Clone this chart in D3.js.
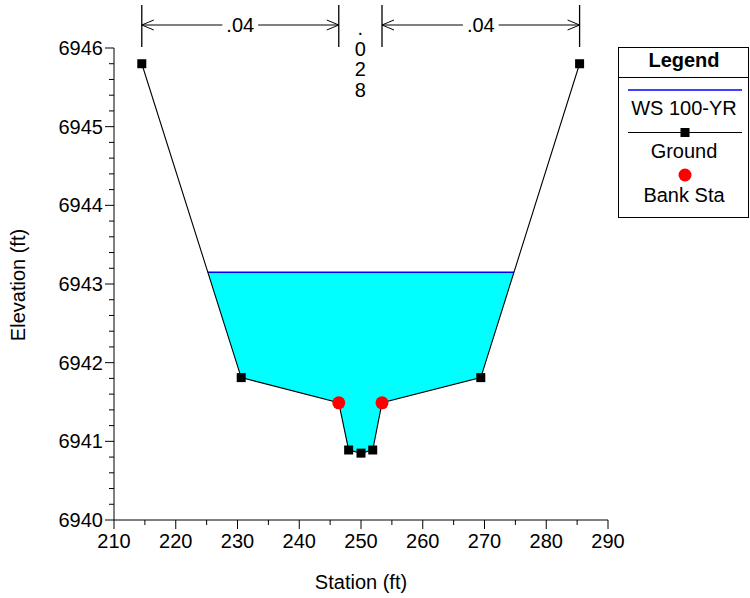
<!DOCTYPE html>
<html><head><meta charset="utf-8">
<script src="https://cdn.jsdelivr.net/npm/d3@7"></script>
<style>body{margin:0;background:#fff}svg{display:block;font-family:"Liberation Sans",Arial,sans-serif}</style>
</head><body>
<script>
const groundStation = [214.5, 230.6, 246.4, 248.0, 250.0, 251.9, 253.4, 269.4, 285.4];
const groundElev    = [6945.8, 6941.81, 6941.49, 6940.89, 6940.85, 6940.89, 6941.49, 6941.81, 6945.8];
const bankStation = [246.4, 253.4];
const bankElev    = [6941.49, 6941.49];
const wsElev = 6943.15;
const nValues = [".04", ".028", ".04"];
const nBreaks = [214.5, 246.4, 253.4, 285.4];
const xTicks = [210, 220, 230, 240, 250, 260, 270, 280, 290];
const yTicks = [6940, 6941, 6942, 6943, 6944, 6945, 6946];
const legendItems = ["WS 100-YR", "Ground", "Bank Sta"];

(function () {
const W = 750, H = 598;
const svg = d3.select("body").append("svg").attr("width", W).attr("height", H);
const x = d3.scaleLinear().domain([210, 290]).range([114, 608]);
const y = d3.scaleLinear().domain([6940, 6946]).range([520, 48]);

const ground = groundStation.map((s, i) => [s, groundElev[i]]);

function waterPoly() {
  const pts = [];
  for (let i = 0; i < ground.length - 1; i++) {
    const [x0, y0] = ground[i], [x1, y1] = ground[i + 1];
    if (y0 <= wsElev) pts.push([x0, y0]);
    if ((y0 - wsElev) * (y1 - wsElev) < 0) {
      const t = (wsElev - y0) / (y1 - y0);
      pts.push([x0 + t * (x1 - x0), wsElev]);
    }
  }
  const last = ground[ground.length - 1];
  if (last[1] <= wsElev) pts.push(last);
  return pts;
}
const wp = waterPoly();
svg.append("path")
  .attr("d", d3.line().x(d => x(d[0])).y(d => y(d[1]))(wp) + "Z")
  .attr("fill", "#00FFFF").attr("stroke", "none");
svg.append("line")
  .attr("x1", x(wp[0][0])).attr("x2", x(wp[wp.length - 1][0]))
  .attr("y1", y(wsElev)).attr("y2", y(wsElev))
  .attr("stroke", "#0000FF").attr("stroke-width", 1.5);

svg.append("path")
  .attr("d", d3.line().x(d => x(d[0])).y(d => y(d[1]))(ground))
  .attr("fill", "none").attr("stroke", "#000").attr("stroke-width", 1.1);
svg.selectAll("rect.g").data(ground).enter().append("rect")
  .attr("x", d => x(d[0]) - 4.5).attr("y", d => y(d[1]) - 4.5)
  .attr("width", 9).attr("height", 9).attr("fill", "#000");
svg.selectAll("circle.b").data(bankStation).enter().append("circle")
  .attr("cx", d => x(d)).attr("cy", (d, i) => y(bankElev[i])).attr("r", 6.5)
  .attr("fill", "#FF0000");

const fs = 20;
const gx = svg.append("g").attr("transform", "translate(0,520)");
gx.append("line").attr("x1", x(210)).attr("x2", x(290)).attr("y1", 0).attr("y2", 0).attr("stroke", "#000");
gx.selectAll("line.t").data(d3.range(210, 290.1, 5)).enter().append("line")
  .attr("x1", d => x(d)).attr("x2", d => x(d)).attr("y1", 0)
  .attr("y2", d => d % 10 === 0 ? 9 : 5).attr("stroke", "#000");
gx.selectAll("text").data(xTicks).enter().append("text")
  .attr("x", d => x(d)).attr("y", 28).attr("text-anchor", "middle")
  .attr("font-size", fs).text(d => d);

const gy = svg.append("g").attr("transform", "translate(114,0)");
gy.append("line").attr("x1", 0).attr("x2", 0).attr("y1", y(6940)).attr("y2", y(6946)).attr("stroke", "#000");
gy.selectAll("line.t").data(d3.range(0, 31)).enter().append("line")
  .attr("x1", 0).attr("x2", d => d % 5 === 0 ? -9 : -5)
  .attr("y1", d => y(6940 + d * 0.2)).attr("y2", d => y(6940 + d * 0.2)).attr("stroke", "#000");
gy.selectAll("text").data(yTicks).enter().append("text")
  .attr("x", -11).attr("y", d => y(d)).attr("dy", "0.35em").attr("text-anchor", "end")
  .attr("font-size", fs).text(d => d);

svg.append("text").attr("x", 361).attr("y", 589).attr("text-anchor", "middle")
  .attr("font-size", fs).text("Station (ft)");
svg.append("text").attr("transform", "translate(25,285) rotate(-90)").attr("text-anchor", "middle")
  .attr("font-size", fs).text("Elevation (ft)");

const topY = 5, botY = 47, ay = 25;
nBreaks.forEach(s => {
  svg.append("line").attr("x1", x(s)).attr("x2", x(s)).attr("y1", topY).attr("y2", botY)
    .attr("stroke", "#000").attr("stroke-width", 1.3);
});
function arrowHead(px, dir) {
  svg.append("path").attr("d", `M${px + dir * 12},${ay - 5} L${px},${ay} L${px + dir * 12},${ay + 5}`)
    .attr("fill", "none").attr("stroke", "#000").attr("stroke-width", 1);
}
[0, 2].forEach(k => {
  const a = x(nBreaks[k]), b = x(nBreaks[k + 1]), m = (a + b) / 2;
  const txt = svg.append("text").attr("x", m).attr("y", ay).attr("dy", "0.35em")
    .attr("text-anchor", "middle").attr("font-size", fs).text(nValues[k]);
  const tw = txt.node().getComputedTextLength();
  svg.append("line").attr("x1", a).attr("x2", m - tw / 2 - 4).attr("y1", ay).attr("y2", ay).attr("stroke", "#000");
  svg.append("line").attr("x1", m + tw / 2 + 4).attr("x2", b).attr("y1", ay).attr("y2", ay).attr("stroke", "#000");
  arrowHead(a, 1); arrowHead(b, -1);
});
{
  const m = (x(nBreaks[1]) + x(nBreaks[2])) / 2;
  nValues[1].split("").forEach((c, i) => {
    svg.append("text").attr("x", m).attr("y", 35 + i * 20.5).attr("text-anchor", "middle")
      .attr("font-size", fs).text(c);
  });
}

const lg = svg.append("g");
lg.append("rect").attr("x", 618.5).attr("y", 47.5).attr("width", 130).attr("height", 170)
  .attr("fill", "#fff").attr("stroke", "#000");
lg.append("line").attr("x1", 618.5).attr("x2", 748.5).attr("y1", 77.5).attr("y2", 77.5).attr("stroke", "#000");
lg.append("text").attr("x", 684).attr("y", 67).attr("text-anchor", "middle")
  .attr("font-size", fs).attr("font-weight", "bold").text("Legend");
lg.append("line").attr("x1", 628).attr("x2", 742).attr("y1", 90).attr("y2", 90).attr("stroke", "#0000FF").attr("stroke-width", 1.5);
lg.append("text").attr("x", 684).attr("y", 115).attr("text-anchor", "middle").attr("font-size", fs).text(legendItems[0]);
lg.append("line").attr("x1", 628).attr("x2", 742).attr("y1", 132.5).attr("y2", 132.5).attr("stroke", "#000").attr("stroke-width", 1.1);
lg.append("rect").attr("x", 680.5).attr("y", 128).attr("width", 9).attr("height", 9).attr("fill", "#000");
lg.append("text").attr("x", 684).attr("y", 158).attr("text-anchor", "middle").attr("font-size", fs).text(legendItems[1]);
lg.append("circle").attr("cx", 685).attr("cy", 175).attr("r", 6.5).attr("fill", "#FF0000");
lg.append("text").attr("x", 684).attr("y", 202).attr("text-anchor", "middle").attr("font-size", fs).text(legendItems[2]);
})();
</script>
</body></html>
